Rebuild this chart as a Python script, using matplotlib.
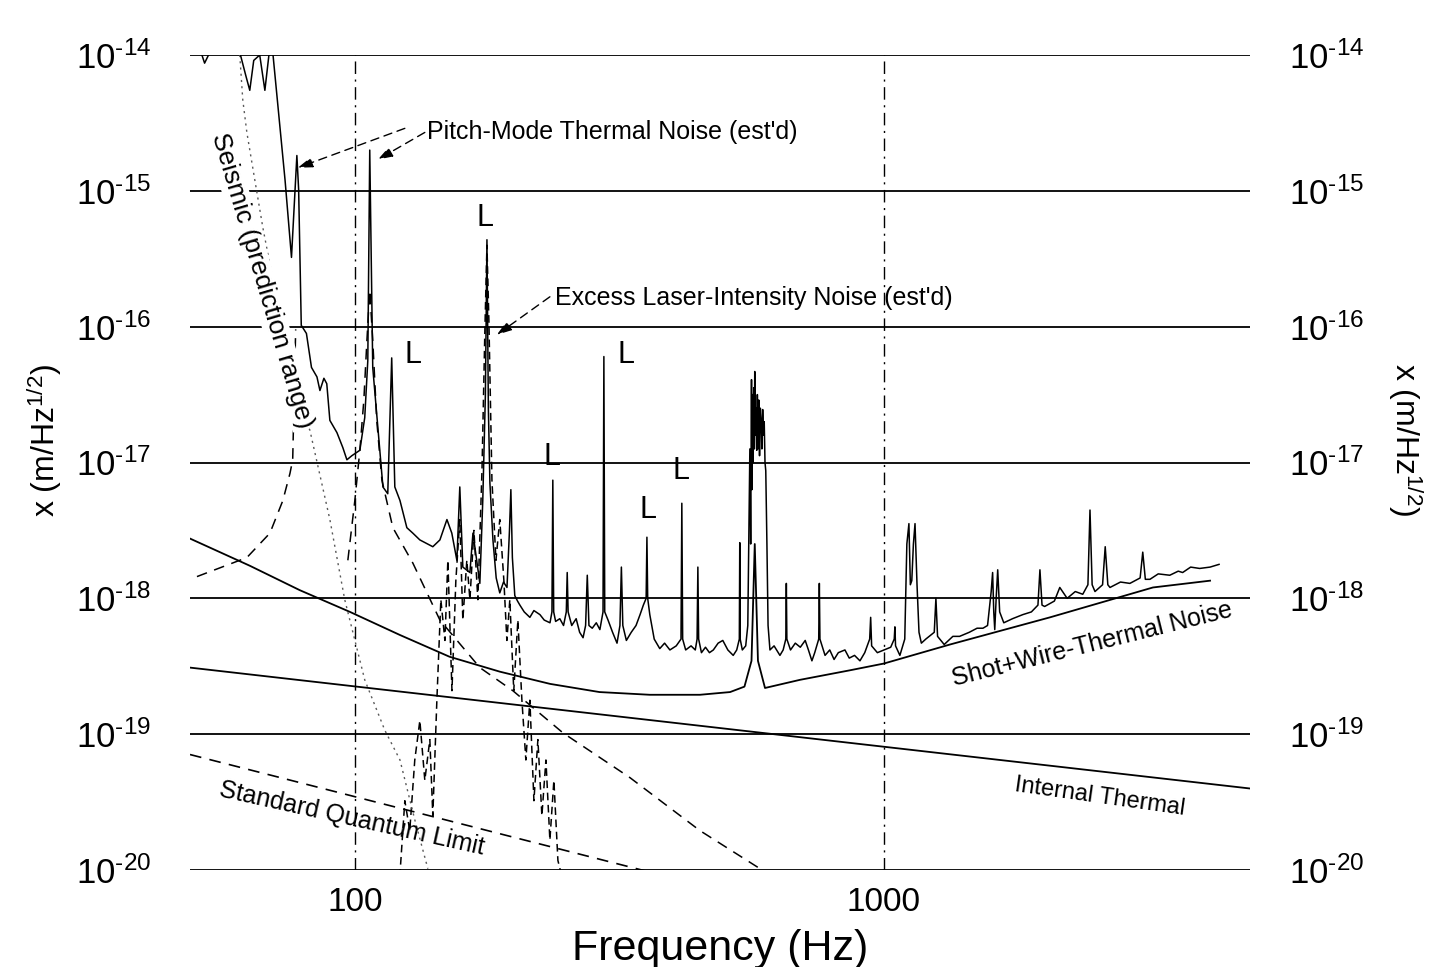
import numpy as np
import matplotlib
matplotlib.use('Agg')
import matplotlib.pyplot as plt
from matplotlib.ticker import NullLocator

plt.rcParams['font.family'] = ['Liberation Sans', 'DejaVu Sans']
plt.rcParams['mathtext.fontset'] = 'custom'
plt.rcParams['mathtext.rm'] = 'Liberation Sans'
plt.rcParams['mathtext.it'] = 'Liberation Sans:italic'
plt.rcParams['axes.unicode_minus'] = False

# Measured displacement noise spectrum (Hz, log10 of m/rtHz)
meas_f = [48.8, 50.9, 52.0, 53.2, 60.6, 62.2, 63.3, 64.4, 66.1, 67.6, 68.8, 70.0,
          73.8, 75.9, 77.7, 78.3, 79.2, 81.0, 82.8, 84.8, 85.9, 87.4, 88.5, 89.7,
          92.5, 94.9, 96.6, 98.7, 102.2, 104.4, 105.8, 106.7, 108.1, 111.5, 113.0,
          115.4, 117.4, 119.0, 121.7, 125.4, 128.7, 132.7, 140.4, 144.8, 149.3,
          152.5, 155.9, 157.9, 160.0, 165.0, 167.2, 172.3, 174.5, 176.5, 177.7,
          178.8, 180.0, 182.4, 185, 187.9, 191, 193.9, 196.0, 197.2, 198.5, 200.6,
          203, 205.1, 209, 214.2, 218, 223.8, 228, 233.8, 235.8, 236.7, 237.6,
          239.6, 244, 248, 251, 252, 253, 257, 262, 266, 270, 273, 275, 277, 281,
          286, 290.5, 294.5, 295.6, 296.7, 301, 307, 313, 317, 319, 321, 326, 333,
          340, 346, 351, 355.3, 356.5, 357.7, 361, 368, 377, 385, 394, 405, 413.5,
          415, 416.5, 422, 432, 440, 443.5, 445, 446.5, 452, 460, 468, 476, 486,
          496, 507, 519, 527, 533, 534, 535, 540, 548, 553, 556, 558, 560, 562,
          563, 564.5, 566, 567.5, 569, 570, 571.5, 573, 575, 576.5, 578, 580, 582,
          584, 586, 588, 590, 592, 594, 596, 598, 601, 604, 609, 620, 636, 645,
          652.5, 654, 655.5, 666, 680, 695, 710, 720, 731, 740, 753, 755, 757, 774,
          790, 805, 820, 844, 860, 880, 901, 920, 940, 944, 948, 972, 1000, 1030,
          1046, 1049, 1052, 1072, 1095, 1105, 1115, 1122, 1129, 1137, 1145, 1155,
          1165, 1177, 1200, 1245, 1254, 1263, 1300, 1350, 1390, 1450, 1500, 1539,
          1570, 1595, 1605, 1613, 1620, 1630, 1641, 1655, 1685, 1750, 1830, 1900,
          1955, 1972, 1990, 2013, 2100, 2150, 2220, 2300, 2376, 2430, 2452, 2475,
          2506, 2590, 2620, 2650, 2675, 2800, 2917, 3050, 3085, 3120, 3183, 3300,
          3470, 3600, 3670, 3800, 3952, 4135, 4300]
meas_e = [-13.95, -13.95, -14.06, -13.98, -13.98, -14.15, -14.26, -14.04, -14.00,
          -14.26, -14.00, -13.99, -14.92, -15.49, -14.74, -14.99, -15.99, -16.05,
          -16.30, -16.37, -16.47, -16.38, -16.42, -16.69, -16.78, -16.89, -16.98,
          -16.95, -16.91, -16.67, -16.25, -14.70, -16.30, -16.91, -17.18, -17.23,
          -16.23, -17.18, -17.28, -17.48, -17.52, -17.57, -17.62, -17.57, -17.42,
          -17.52, -17.72, -17.18, -17.77, -17.81, -17.52, -17.89, -17.28, -16.50,
          -15.36, -16.60, -17.15, -17.57, -17.85, -17.96, -17.88, -17.92, -17.50,
          -17.20, -17.70, -17.98, -18.02, -18.05, -18.10, -18.14, -18.09, -18.12,
          -18.16, -18.18, -18.10, -17.13, -18.10, -18.17, -18.15, -18.20, -18.10,
          -17.81, -18.10, -18.20, -18.15, -18.25, -18.29, -18.20, -17.83, -18.20,
          -18.22, -18.18, -18.23, -18.10, -16.22, -18.10, -18.16, -18.25, -18.33,
          -18.20, -17.77, -18.20, -18.31, -18.25, -18.20, -18.12, -18.05, -18.00,
          -17.55, -18.00, -18.12, -18.30, -18.37, -18.33, -18.38, -18.35, -18.30,
          -17.30, -18.30, -18.38, -18.35, -18.38, -18.30, -17.77, -18.30, -18.40,
          -18.36, -18.40, -18.38, -18.33, -18.31, -18.38, -18.42, -18.38, -18.30,
          -17.59, -18.30, -18.38, -18.35, -18.20, -17.40, -16.90, -17.60, -16.39,
          -17.20, -16.50, -17.00, -16.45, -16.90, -16.33, -16.80, -16.60, -16.91,
          -16.50, -16.90, -16.54, -16.95, -16.60, -16.69, -16.90, -16.61, -16.80,
          -16.70, -17.00, -17.06, -17.60, -18.20, -18.38, -18.35, -18.42, -18.38,
          -18.30, -17.89, -18.30, -18.38, -18.33, -18.36, -18.31, -18.38, -18.46,
          -18.40, -18.30, -17.89, -18.30, -18.42, -18.38, -18.45, -18.40, -18.38,
          -18.44, -18.42, -18.46, -18.40, -18.30, -18.14, -18.35, -18.40, -18.38,
          -18.36, -18.30, -18.21, -18.35, -18.42, -18.30, -17.60, -17.45, -17.90,
          -17.87, -17.60, -17.45, -17.90, -18.25, -18.33, -18.30, -18.25, -18.00,
          -18.28, -18.34, -18.28, -18.28, -18.25, -18.22, -18.22, -18.20, -17.95,
          -17.81, -18.10, -18.23, -18.00, -17.79, -18.10, -18.18, -18.15, -18.12,
          -18.10, -18.05, -17.79, -18.05, -18.06, -18.02, -17.92, -18.00, -17.95,
          -17.97, -17.90, -17.35, -17.90, -17.95, -17.90, -17.62, -17.90, -17.92,
          -17.88, -17.89, -17.85, -17.66, -17.86, -17.86, -17.82, -17.83, -17.80,
          -17.81, -17.77, -17.78, -17.77, -17.75]

# Shot + wire-thermal noise
shot_f = [48.8, 63.3, 78.7, 97.9, 121.7, 151, 188, 234, 290, 361, 449, 512, 545,
          562, 570, 578, 596, 694, 862, 1000, 1333, 2060, 3225, 4135]
shot_e = [-17.56, -17.76, -17.94, -18.10, -18.27, -18.43, -18.54, -18.63, -18.69,
          -18.71, -18.71, -18.69, -18.65, -18.46, -17.60, -18.46, -18.66, -18.60,
          -18.53, -18.48, -18.34, -18.14, -17.92, -17.87]

# Internal thermal and standard quantum limit
int_f = [48.8, 4920]
int_e = [-18.51, -19.40]
sql_f = [48.8, 365]
sql_e = [-19.15, -20.02]

# Pitch-mode thermal noise estimates (dashed)
pitch1_f = [50.3, 62.5, 69.1, 73.1, 75.4, 76.3, 77.3]
pitch1_e = [-17.84, -17.70, -17.52, -17.28, -17.08, -16.98, -16.02]
pitch2_f = [97.0, 100.0, 102.2, 104.0, 105.4, 106.7, 108.1, 110.0, 112.5, 118.0,
            128.7, 144.8, 172.3, 198.9, 247.3, 331.1, 449.0, 583.0]
pitch2_e = [-17.72, -17.28, -16.91, -16.54, -16.10, -15.73, -16.10, -16.69, -17.13,
            -17.48, -17.74, -18.16, -18.51, -18.68, -18.99, -19.32, -19.71, -19.99]

# Excess laser-intensity noise estimate (dashed)
laser_f = [121.6, 124.3, 127.0, 129.8, 132.7, 135.6, 138.6, 140.4, 142.9, 145.4,
           148.0, 149.9, 152.6, 155.2, 157.9, 160.0, 162.8, 165.0, 167.9, 170.8,
           173.9, 176.1, 177.7, 179.2, 181.6, 184.8, 187.9, 191.3, 193.8, 196.3,
           199.7, 203.3, 206.9, 210.5, 214.2, 218.0, 221.8, 225.7, 229.7, 233.7,
           237.8, 242.0, 246.3]
laser_e = [-20.05, -19.49, -19.71, -19.19, -18.90, -19.34, -19.04, -19.60, -18.75,
           -18.01, -18.31, -17.72, -18.68, -17.87, -17.42, -18.16, -17.72, -18.01,
           -17.50, -18.01, -17.06, -16.03, -15.40, -15.95, -17.13, -17.72, -17.42,
           -17.87, -18.31, -18.01, -18.68, -18.16, -18.75, -19.19, -18.75, -19.49,
           -19.04, -19.60, -19.19, -19.78, -19.34, -19.93, -20.05]

# Seismic prediction (dotted)
seis_f = [60.6, 61.4, 62.5, 64.7, 67.0, 70.6, 75.4, 80.4, 82.2, 89.7, 95.7, 104.4,
          113.9, 121.7, 129.8, 137.4]
seis_e = [-14.0, -14.33, -14.57, -14.92, -15.27, -15.73, -16.32, -16.69, -16.76,
          -17.42, -18.01, -18.60, -18.97, -19.19, -19.63, -19.99]

ytick_exp = [-20, -19, -18, -17, -16, -15, -14]
xtick_vals = [100, 1000]

# "L" markers: (Hz, log10 amplitude)
l_f = [176.1, 128.7, 326, 235.6, 413.3, 358.0]
l_e = [-15.20, -16.21, -16.21, -16.96, -17.06, -17.35]

W, H = 1433, 967
fig = plt.figure(figsize=(W / 100, H / 100), dpi=100)
ax = fig.add_axes([190 / W, 1 - 870 / H, 1060 / W, 815 / H])
ax.set_xscale('log')
ax.set_yscale('log')
ax.set_xlim(48.8, 4920)
ax.set_ylim(1e-20, 1e-14)
for s in ax.spines.values():
    s.set_visible(False)

p = lambda e: 10.0 ** np.array(e)

# grid
for e in ytick_exp:
    ax.axhline(10.0 ** e, color='black', lw=1.3, zorder=1)
for v in xtick_vals:
    ax.axvline(v, color='black', lw=1.0, ls=(0, (9, 4, 1.5, 4)), zorder=1)

ax.plot(int_f, p(int_e), color='black', lw=1.3, zorder=3)
ax.plot(sql_f, p(sql_e), color='black', lw=1.2, ls=(0, (7, 5)), zorder=3)
ax.plot(shot_f, p(shot_e), color='black', lw=1.3, zorder=3)
ax.plot(pitch1_f, p(pitch1_e), color='black', lw=1.1, ls=(0, (7, 5)), zorder=3)
ax.plot(pitch2_f, p(pitch2_e), color='black', lw=1.1, ls=(0, (7, 5)), zorder=3)
ax.plot(laser_f, p(laser_e), color='black', lw=1.1, ls=(0, (5, 3)), zorder=3)
ax.plot(seis_f, p(seis_e), color='0.35', lw=1.0, ls=(0, (1.5, 3)), zorder=3)
ax.plot(meas_f, p(meas_e), color='black', lw=1.1, zorder=4)

ax.set_yticks(p(ytick_exp))
ax.set_yticklabels([r'$\mathregular{10^{\text{-}%d}}$' % -e for e in ytick_exp])
ax.set_xticks(xtick_vals)
ax.set_xticklabels([str(v) for v in xtick_vals])
ax.xaxis.set_minor_locator(NullLocator())
ax.yaxis.set_minor_locator(NullLocator())
ax.tick_params(axis='y', length=0, labelsize=25, labelleft=True, labelright=True, pad=28)
ax.tick_params(axis='x', length=0, labelsize=24, pad=12)

ax.set_xlabel('Frequency (Hz)', fontsize=31, labelpad=8)
fig.text(45 / W, 1 - 440 / H, r'x (m/Hz$^{\mathregular{1/2}}$)', rotation=90,
         ha='center', va='center', fontsize=23)
fig.text(1405 / W, 1 - 440 / H, r'x (m/Hz$^{\mathregular{1/2}}$)', rotation=-90,
         ha='center', va='center', fontsize=23)

# annotations
ax.text(136.8, 10 ** -14.57, "Pitch-Mode Thermal Noise (est'd)", fontsize=18,
        ha='left', va='center', zorder=5)
ax.text(238.8, 10 ** -15.79, "Excess Laser-Intensity Noise (est'd)", fontsize=18,
        ha='left', va='center', zorder=5)
arr = dict(arrowstyle='-|>,head_length=0.9,head_width=0.3', color='black', lw=1.0,
           ls=(0, (6, 4)), shrinkA=0, shrinkB=0)
ax.annotate('', xy=(78.0, 10 ** -14.83), xytext=(124.3, 10 ** -14.54), arrowprops=arr)
ax.annotate('', xy=(110.5, 10 ** -14.77), xytext=(135.6, 10 ** -14.57), arrowprops=arr)
ax.annotate('', xy=(185.5, 10 ** -16.06), xytext=(233.7, 10 ** -15.78), arrowprops=arr)

for lf, le in zip(l_f, l_e):
    ax.text(lf, 10 ** le, 'L', fontsize=22, ha='center', va='center', zorder=5)

ax.text(66.7, 10 ** -15.66, 'Seismic (prediction range)', fontsize=19, rotation=-73.5,
        ha='center', va='center', rotation_mode='anchor', zorder=5,
        bbox=dict(facecolor='white', edgecolor='none', pad=1))
ax.text(98.7, 10 ** -19.62, 'Standard Quantum Limit', fontsize=18, rotation=-12.5,
        ha='center', va='center', rotation_mode='anchor', zorder=5)
ax.text(2561, 10 ** -19.46, 'Internal Thermal', fontsize=17, rotation=-8,
        ha='center', va='center', rotation_mode='anchor', zorder=5)
ax.text(2473, 10 ** -18.34, 'Shot+Wire-Thermal Noise', fontsize=18, rotation=14,
        ha='center', va='center', rotation_mode='anchor', zorder=5)

fig.savefig('out.png', dpi=100)
